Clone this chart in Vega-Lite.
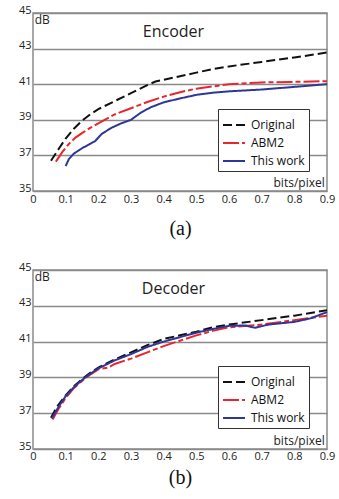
{
  "$schema": "https://vega.github.io/schema/vega-lite/v6.json",
  "padding": {"left": 5, "top": 3, "right": 5, "bottom": 2},
  "spacing": 21,
  "background": "white",
  "config": {
    "view": {"stroke": "#8a8a8a", "strokeWidth": 1.5},
    "axis": {"labelFont": "Open Sans", "labelFontSize": 11, "labelColor": "#222", "domain": false, "ticks": false, "labelOverlap": false, "labelFlush": false},
    "text": {"font": "Open Sans"}
  },
  "datasets": {
    "enc": [
      {"x": 0.055, "y": 36.7, "s": "Original"}, {"x": 0.08, "y": 37.4, "s": "Original"}, {"x": 0.1, "y": 37.95, "s": "Original"}, {"x": 0.125, "y": 38.5, "s": "Original"}, {"x": 0.15, "y": 38.95, "s": "Original"}, {"x": 0.175, "y": 39.3, "s": "Original"}, {"x": 0.2, "y": 39.6, "s": "Original"}, {"x": 0.25, "y": 40.05, "s": "Original"}, {"x": 0.3, "y": 40.5, "s": "Original"}, {"x": 0.35, "y": 40.95, "s": "Original"}, {"x": 0.375, "y": 41.15, "s": "Original"}, {"x": 0.4, "y": 41.25, "s": "Original"}, {"x": 0.45, "y": 41.45, "s": "Original"}, {"x": 0.5, "y": 41.65, "s": "Original"}, {"x": 0.55, "y": 41.85, "s": "Original"}, {"x": 0.6, "y": 42.0, "s": "Original"}, {"x": 0.7, "y": 42.25, "s": "Original"}, {"x": 0.8, "y": 42.5, "s": "Original"}, {"x": 0.9, "y": 42.78, "s": "Original"},
      {"x": 0.07, "y": 36.65, "s": "ABM2"}, {"x": 0.09, "y": 37.2, "s": "ABM2"}, {"x": 0.11, "y": 37.65, "s": "ABM2"}, {"x": 0.13, "y": 38.0, "s": "ABM2"}, {"x": 0.15, "y": 38.25, "s": "ABM2"}, {"x": 0.175, "y": 38.55, "s": "ABM2"}, {"x": 0.2, "y": 38.8, "s": "ABM2"}, {"x": 0.25, "y": 39.3, "s": "ABM2"}, {"x": 0.3, "y": 39.65, "s": "ABM2"}, {"x": 0.35, "y": 40.0, "s": "ABM2"}, {"x": 0.4, "y": 40.3, "s": "ABM2"}, {"x": 0.45, "y": 40.55, "s": "ABM2"}, {"x": 0.5, "y": 40.75, "s": "ABM2"}, {"x": 0.6, "y": 41.0, "s": "ABM2"}, {"x": 0.7, "y": 41.1, "s": "ABM2"}, {"x": 0.8, "y": 41.13, "s": "ABM2"}, {"x": 0.9, "y": 41.17, "s": "ABM2"},
      {"x": 0.1, "y": 36.4, "s": "This work"}, {"x": 0.11, "y": 36.8, "s": "This work"}, {"x": 0.125, "y": 37.1, "s": "This work"}, {"x": 0.15, "y": 37.4, "s": "This work"}, {"x": 0.175, "y": 37.65, "s": "This work"}, {"x": 0.19, "y": 37.8, "s": "This work"}, {"x": 0.21, "y": 38.2, "s": "This work"}, {"x": 0.24, "y": 38.55, "s": "This work"}, {"x": 0.27, "y": 38.8, "s": "This work"}, {"x": 0.3, "y": 39.0, "s": "This work"}, {"x": 0.33, "y": 39.4, "s": "This work"}, {"x": 0.36, "y": 39.7, "s": "This work"}, {"x": 0.4, "y": 39.98, "s": "This work"}, {"x": 0.45, "y": 40.2, "s": "This work"}, {"x": 0.5, "y": 40.4, "s": "This work"}, {"x": 0.55, "y": 40.52, "s": "This work"}, {"x": 0.6, "y": 40.6, "s": "This work"}, {"x": 0.7, "y": 40.7, "s": "This work"}, {"x": 0.8, "y": 40.85, "s": "This work"}, {"x": 0.9, "y": 41.0, "s": "This work"}
    ],
    "dec": [
      {"x": 0.055, "y": 36.75, "s": "Original"}, {"x": 0.075, "y": 37.4, "s": "Original"}, {"x": 0.1, "y": 38.0, "s": "Original"}, {"x": 0.125, "y": 38.5, "s": "Original"}, {"x": 0.15, "y": 38.9, "s": "Original"}, {"x": 0.175, "y": 39.25, "s": "Original"}, {"x": 0.2, "y": 39.55, "s": "Original"}, {"x": 0.25, "y": 40.0, "s": "Original"}, {"x": 0.3, "y": 40.4, "s": "Original"}, {"x": 0.35, "y": 40.8, "s": "Original"}, {"x": 0.4, "y": 41.15, "s": "Original"}, {"x": 0.45, "y": 41.35, "s": "Original"}, {"x": 0.5, "y": 41.55, "s": "Original"}, {"x": 0.55, "y": 41.8, "s": "Original"}, {"x": 0.6, "y": 41.95, "s": "Original"}, {"x": 0.7, "y": 42.2, "s": "Original"}, {"x": 0.8, "y": 42.45, "s": "Original"}, {"x": 0.9, "y": 42.75, "s": "Original"},
      {"x": 0.06, "y": 36.65, "s": "ABM2"}, {"x": 0.08, "y": 37.3, "s": "ABM2"}, {"x": 0.1, "y": 37.85, "s": "ABM2"}, {"x": 0.125, "y": 38.4, "s": "ABM2"}, {"x": 0.15, "y": 38.8, "s": "ABM2"}, {"x": 0.175, "y": 39.15, "s": "ABM2"}, {"x": 0.2, "y": 39.45, "s": "ABM2"}, {"x": 0.23, "y": 39.55, "s": "ABM2"}, {"x": 0.25, "y": 39.75, "s": "ABM2"}, {"x": 0.3, "y": 40.05, "s": "ABM2"}, {"x": 0.35, "y": 40.4, "s": "ABM2"}, {"x": 0.4, "y": 40.75, "s": "ABM2"}, {"x": 0.45, "y": 41.05, "s": "ABM2"}, {"x": 0.5, "y": 41.35, "s": "ABM2"}, {"x": 0.55, "y": 41.6, "s": "ABM2"}, {"x": 0.6, "y": 41.8, "s": "ABM2"}, {"x": 0.7, "y": 41.95, "s": "ABM2"}, {"x": 0.8, "y": 42.2, "s": "ABM2"}, {"x": 0.9, "y": 42.45, "s": "ABM2"},
      {"x": 0.057, "y": 36.7, "s": "This work"}, {"x": 0.08, "y": 37.4, "s": "This work"}, {"x": 0.1, "y": 37.95, "s": "This work"}, {"x": 0.125, "y": 38.45, "s": "This work"}, {"x": 0.15, "y": 38.85, "s": "This work"}, {"x": 0.175, "y": 39.2, "s": "This work"}, {"x": 0.2, "y": 39.5, "s": "This work"}, {"x": 0.25, "y": 39.95, "s": "This work"}, {"x": 0.3, "y": 40.3, "s": "This work"}, {"x": 0.35, "y": 40.7, "s": "This work"}, {"x": 0.4, "y": 41.0, "s": "This work"}, {"x": 0.45, "y": 41.25, "s": "This work"}, {"x": 0.5, "y": 41.5, "s": "This work"}, {"x": 0.55, "y": 41.7, "s": "This work"}, {"x": 0.6, "y": 41.88, "s": "This work"}, {"x": 0.65, "y": 41.9, "s": "This work"}, {"x": 0.68, "y": 41.77, "s": "This work"}, {"x": 0.72, "y": 41.95, "s": "This work"}, {"x": 0.8, "y": 42.1, "s": "This work"}, {"x": 0.85, "y": 42.3, "s": "This work"}, {"x": 0.9, "y": 42.65, "s": "This work"}
    ],
    "encText": [
      {"x": 0.005, "y": 44.6, "t": "dB", "a": "left"},
      {"x": 0.43, "y": 43.95, "t": "Encoder", "a": "center"},
      {"x": 0.893, "y": 35.45, "t": "bits/pixel", "a": "right"}
    ],
    "decText": [
      {"x": 0.005, "y": 44.6, "t": "dB", "a": "left"},
      {"x": 0.43, "y": 43.95, "t": "Decoder", "a": "center"},
      {"x": 0.893, "y": 35.45, "t": "bits/pixel", "a": "right"}
    ]
  },
  "vconcat": [
    {
      "width": 294,
      "height": 178,
      "encoding": {
        "x": {"field": "x", "type": "quantitative", "scale": {"domain": [0, 0.9], "nice": false},
              "axis": {"values": [0, 0.1, 0.2, 0.3, 0.4, 0.5, 0.6, 0.7, 0.8, 0.9], "format": ".1~f", "grid": false, "labelPadding": 2, "title": "(a)", "titleFont": "Liberation Serif", "titleFontSize": 20, "titleFontWeight": "normal", "titleColor": "#111", "titlePadding": 14}},
        "y": {"field": "y", "type": "quantitative", "scale": {"domain": [35, 45], "nice": false, "zero": false},
              "axis": {"values": [35, 37, 39, 41, 43, 45], "grid": true, "gridColor": "#8a8a8a", "gridWidth": 1.3, "labelPadding": 2, "labelOffset": -3, "minExtent": 27, "title": null}}
      },
      "layer": [
        {
          "data": {"name": "enc"},
          "mark": {"type": "line", "strokeWidth": 2},
          "encoding": {
            "color": {"field": "s", "type": "nominal", "scale": {"domain": ["Original", "ABM2", "This work"], "range": ["#111111", "#e8262c", "#2e3796"]},
                      "legend": {"title": null, "orient": "none", "legendX": 185, "legendY": 96, "fillColor": "white", "strokeColor": "#333", "padding": 4, "symbolType": "stroke", "symbolStrokeWidth": 2, "symbolSize": 484, "labelFont": "Open Sans", "labelFontSize": 12, "labelColor": "#111", "rowPadding": 0, "labelOffset": 5}},
            "strokeDash": {"field": "s", "type": "nominal", "scale": {"domain": ["Original", "ABM2", "This work"], "range": [[9, 4], [16, 3, 5, 3], [1, 0]]}}
          }
        },
        {
          "data": {"name": "encText"},
          "transform": [{"filter": "datum.a == 'left'"}],
          "mark": {"type": "text", "baseline": "middle", "align": "left", "fontSize": 12, "color": "#222"},
          "encoding": {"text": {"field": "t"}}
        },
        {
          "data": {"name": "encText"},
          "transform": [{"filter": "datum.a == 'center'"}],
          "mark": {"type": "text", "baseline": "middle", "align": "center", "fontSize": 16, "color": "#222"},
          "encoding": {"text": {"field": "t"}}
        },
        {
          "data": {"name": "encText"},
          "transform": [{"filter": "datum.a == 'right'"}],
          "mark": {"type": "text", "baseline": "middle", "align": "right", "fontSize": 12, "color": "#222"},
          "encoding": {"text": {"field": "t"}}
        }
      ]
    },
    {
      "width": 294,
      "height": 179,
      "encoding": {
        "x": {"field": "x", "type": "quantitative", "scale": {"domain": [0, 0.9], "nice": false},
              "axis": {"values": [0, 0.1, 0.2, 0.3, 0.4, 0.5, 0.6, 0.7, 0.8, 0.9], "format": ".1~f", "grid": false, "labelPadding": 1, "title": "(b)", "titleFont": "Liberation Serif", "titleFontSize": 20, "titleFontWeight": "normal", "titleColor": "#111", "titlePadding": 6}},
        "y": {"field": "y", "type": "quantitative", "scale": {"domain": [35, 45], "nice": false, "zero": false},
              "axis": {"values": [35, 37, 39, 41, 43, 45], "grid": true, "gridColor": "#8a8a8a", "gridWidth": 1.3, "labelPadding": 2, "labelOffset": -3, "minExtent": 27, "title": null}}
      },
      "layer": [
        {
          "data": {"name": "dec"},
          "mark": {"type": "line", "strokeWidth": 2},
          "encoding": {
            "color": {"field": "s", "type": "nominal", "scale": {"domain": ["Original", "ABM2", "This work"], "range": ["#111111", "#e8262c", "#2e3796"]},
                      "legend": {"title": null, "orient": "none", "legendX": 185, "legendY": 96, "fillColor": "white", "strokeColor": "#333", "padding": 4, "symbolType": "stroke", "symbolStrokeWidth": 2, "symbolSize": 484, "labelFont": "Open Sans", "labelFontSize": 12, "labelColor": "#111", "rowPadding": 0, "labelOffset": 5}},
            "strokeDash": {"field": "s", "type": "nominal", "scale": {"domain": ["Original", "ABM2", "This work"], "range": [[9, 4], [16, 3, 5, 3], [1, 0]]}}
          }
        },
        {
          "data": {"name": "decText"},
          "transform": [{"filter": "datum.a == 'left'"}],
          "mark": {"type": "text", "baseline": "middle", "align": "left", "fontSize": 12, "color": "#222"},
          "encoding": {"text": {"field": "t"}}
        },
        {
          "data": {"name": "decText"},
          "transform": [{"filter": "datum.a == 'center'"}],
          "mark": {"type": "text", "baseline": "middle", "align": "center", "fontSize": 16, "color": "#222"},
          "encoding": {"text": {"field": "t"}}
        },
        {
          "data": {"name": "decText"},
          "transform": [{"filter": "datum.a == 'right'"}],
          "mark": {"type": "text", "baseline": "middle", "align": "right", "fontSize": 12, "color": "#222"},
          "encoding": {"text": {"field": "t"}}
        }
      ]
    }
  ],
  "resolve": {"scale": {"color": "independent", "strokeDash": "independent"}, "legend": {"color": "independent", "strokeDash": "independent"}}
}
